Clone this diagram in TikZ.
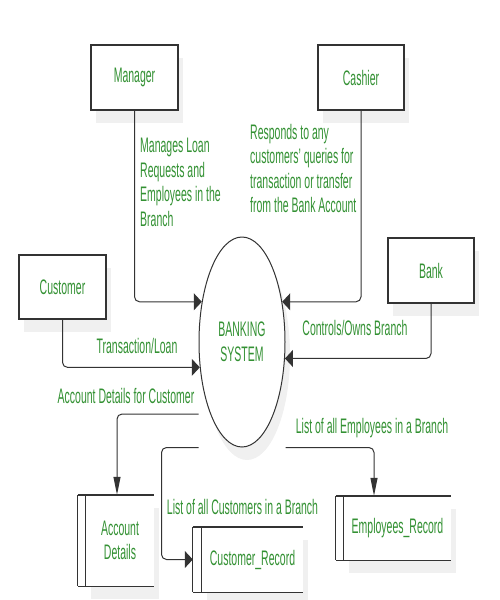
\documentclass[tikz,border=0pt]{standalone}
\usepackage{fontspec}
\setmainfont{Liberation Sans}[FakeStretch=0.5]
\usetikzlibrary{shapes.geometric,arrows.meta,shadows}
\definecolor{textgreen}{RGB}{51,145,51}
\definecolor{edgegrey}{RGB}{51,51,51}
\newcommand{\dfdfont}{\fontsize{21}{24.5}\selectfont}
% open-ended data store: top, bottom, outer side and inner side
\newcommand{\drawstore}[2]{%
  \draw[storeedge] ([xshift=-#2pt]#1.north west) -- (#1.north east);
  \draw[storeedge] ([xshift=-#2pt]#1.south west) -- (#1.south east);
  \draw[storeside] ([xshift=-#2pt]#1.north west) -- ([xshift=-#2pt]#1.south west);
  \draw[storeside] (#1.north west) -- (#1.south west);}
\begin{document}
\begin{tikzpicture}[x=1pt,y=-1pt]
    % Styles
    \tikzstyle{shade} = [drop shadow={shadow xshift=5pt, shadow yshift=-13pt, fill=black!6, opacity=1}]
    \tikzstyle{entity} = [rectangle, minimum width=87pt, minimum height=65pt, draw=edgegrey, line width=1.2pt, fill=white, text=textgreen, font=\dfdfont, shade]
    \tikzstyle{process} = [ellipse, minimum width=86pt, minimum height=210pt, inner sep=0pt, draw=edgegrey, line width=1pt, fill=white, text=textgreen, font=\dfdfont, align=center, shade]
    \tikzstyle{store} = [rectangle, inner sep=0pt, fill=white, text=textgreen, font=\dfdfont, align=center, shade]
    \tikzstyle{storeedge} = [edgegrey, line width=1.4pt]
    \tikzstyle{storeside} = [edgegrey, line width=0.9pt]
    \tikzstyle{flowlabel} = [inner sep=0pt, text=textgreen, font=\dfdfont]
    \tikzstyle{flowin} = [edgegrey, line width=1pt, rounded corners=5pt, -{Triangle[length=8pt,width=17pt]}]
    \tikzstyle{flowout} = [edgegrey, line width=1pt, rounded corners=5pt, -{Triangle[length=18pt,width=7pt]}]

    \useasboundingbox (0,0) rectangle (500,600);

    % Entities
    \node (mgr) [entity] at (134.5,77.5) {Manager};
    \node (cash) [entity, minimum width=86pt] at (361,77.5) {Cashier};
    \node (cust) [entity, minimum height=64pt] at (62.5,287) {Customer};
    \node (bank) [entity, minimum width=86pt] at (431,270.5) {Bank};

    % Process
    \node (sys) [process] at (242,342) {BANKING\\SYSTEM};

    % Data stores
    \node (ad) [store, minimum width=68pt, minimum height=91pt] at (120,540.5) {Account\\Details};
    \node (cr) [store, minimum width=101pt, minimum height=65pt] at (252.5,559.5) {Customer\_Record};
    \node (er) [store, minimum width=107pt, minimum height=64pt] at (397.5,528) {Employees\_Record};
    \drawstore{ad}{8}
    \drawstore{cr}{9}
    \drawstore{er}{8}

    % Flows into the system
    \draw [flowin] (mgr.south) |- (sys.135);
    \draw [flowin] (cash.south) |- (sys.45);
    \draw [flowin] (cust.south) |- (sys.211);
    \draw [flowin] (bank.south) |- (sys.339);

    % Flows out of the system
    \coordinate (adout) at ([yshift=-72pt]sys.west);
    \coordinate (crout) at (sys.south -| sys.west);
    \coordinate (erout) at (sys.south -| sys.east);
    \draw [flowout] (adout) -| ([xshift=-3pt]ad.north);
    \draw [flowin] (crout) -- ++(-37,0) |- ([xshift=-9pt]cr.west);
    \draw [flowout] (erout) -| ([xshift=-23.5pt]er.north);

    % Labels
    \node (mgrlbl) [flowlabel, anchor=north west, align=left] at (140,138) {Manages Loan\\Requests and\\Employees in the\\Branch};
    \node (cashlbl) [flowlabel, anchor=north west, align=left] at (250,124) {Responds to any\\customers' queries for\\transaction or transfer\\from the Bank Account};
    \node (custlbl) [flowlabel, anchor=base] at (137,353) {Transaction/Loan};
    \node (banklbl) [flowlabel, anchor=base] at (355,335) {Controls/Owns Branch};
    \node (adlbl) [flowlabel, anchor=base] at (126,403) {Account Details for Customer};
    \node (erlbl) [flowlabel, anchor=base] at (372,433) {List of all Employees in a Branch};
    \node (crlbl) [flowlabel, anchor=base] at (242.5,514) {List of all Customers in a Branch};

\end{tikzpicture}
\end{document}
